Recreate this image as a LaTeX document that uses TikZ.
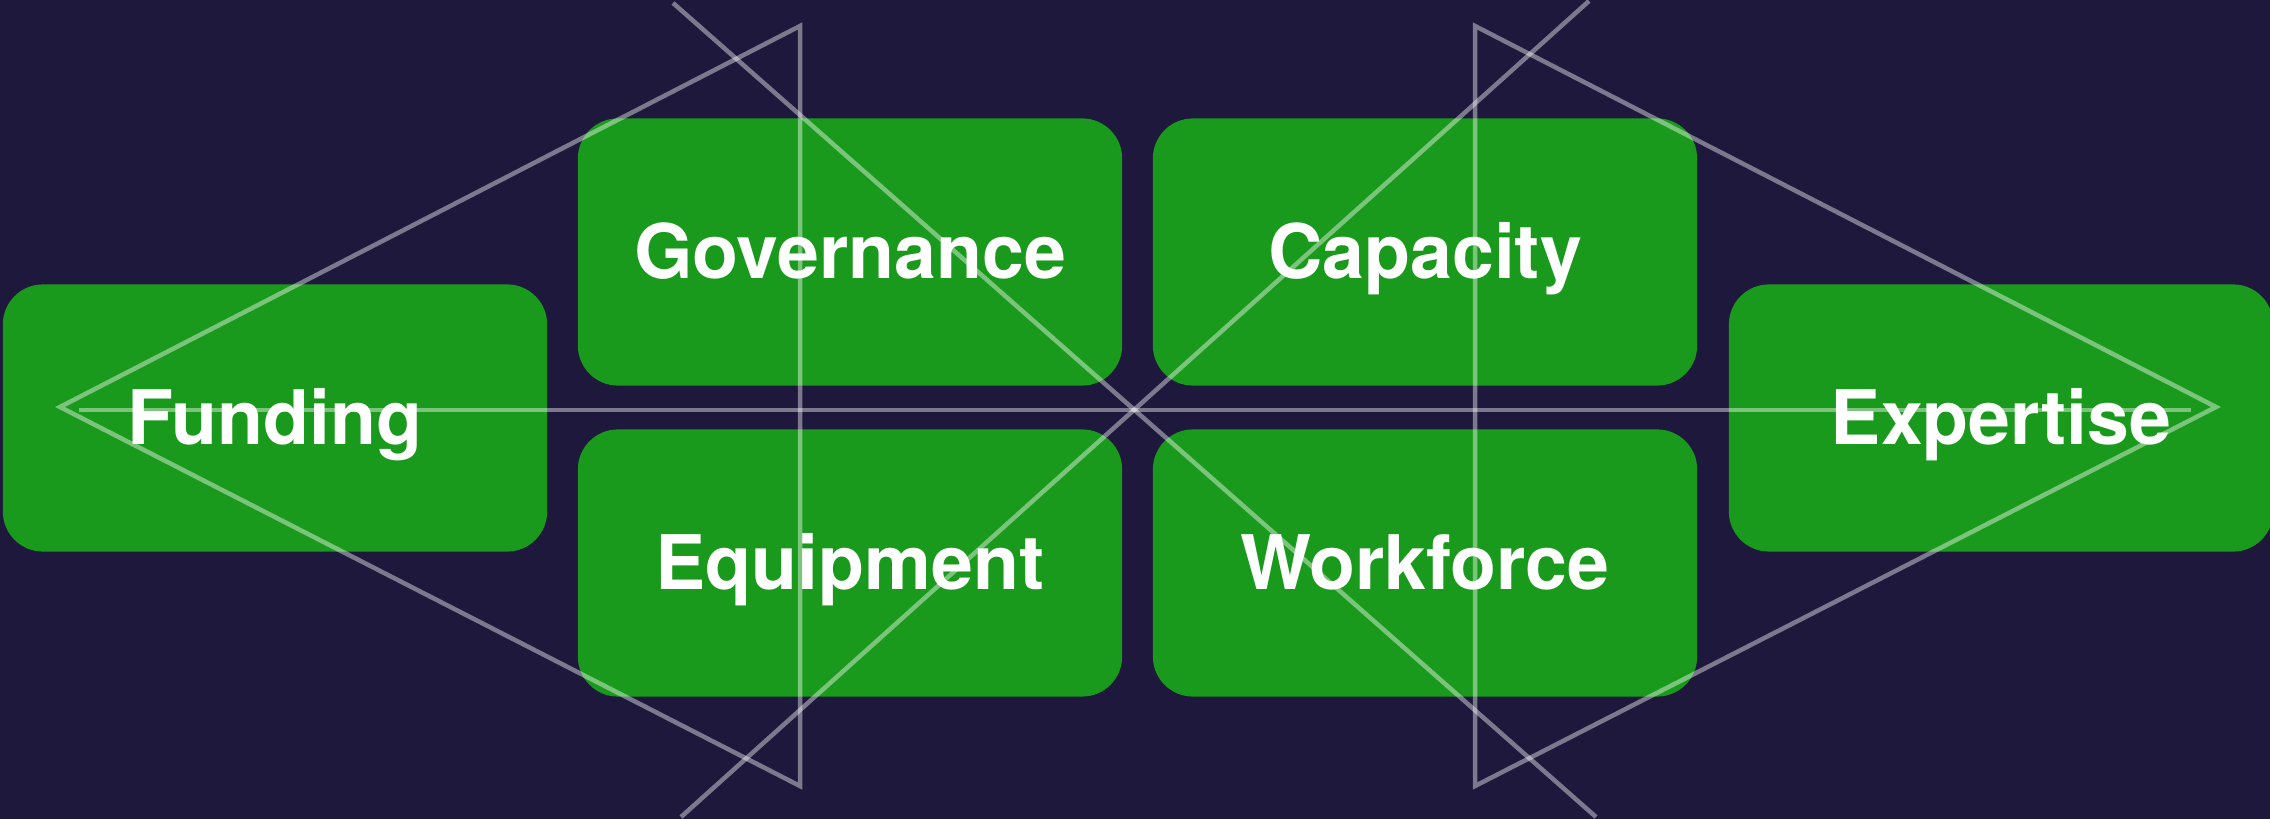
\documentclass[tikz,border=0pt]{standalone}
\usepackage{fontspec}
\setmainfont{TeX Gyre Heros}
\definecolor{bgnavy}{RGB}{30,24,60}
\definecolor{boxgreen}{RGB}{26,154,28}

\begin{document}
\begin{tikzpicture}[x=0.01cm, y=-0.01cm,
  block/.style={fill=boxgreen, rounded corners=0.4cm, minimum width=5.44cm,
    minimum height=2.67cm, inner sep=0pt, text=white,
    font=\fontsize{21.4}{25}\selectfont\bfseries, text height=15.3pt, text depth=0pt},
  guide/.style={draw=white, draw opacity=0.42, line width=0.045cm}]
\fill[bgnavy] (0,0) rectangle (2270,819);
\useasboundingbox (0,0) rectangle (2270,819);
\node[block] (fund) at (275,418) {Funding};
\node[block] (gov) at (850,252) {Governance};
\node[block] (equip) at (850,563) {Equipment};
\node[block] (cap) at (1425,252) {Capacity};
\node[block] (work) at (1425,563) {Workforce};
\node[block] (exp) at (2001,418) {Expertise};
\coordinate (lapex) at (60,407);
\coordinate (ltop) at (800,26);
\coordinate (lbot) at (800,786);
\coordinate (rapex) at (2216,407);
\coordinate (rtop) at (1475,26);
\coordinate (rbot) at (1475,786);
\coordinate (hl) at (79,410);
\coordinate (hr) at (2191,410);
\coordinate (da1) at (673,3);
\coordinate (da2) at (1596,817);
\coordinate (db1) at (681,817);
\coordinate (db2) at (1589,1);
\draw[guide] (lapex) -- (ltop) -- (lbot) -- cycle;
\draw[guide] (rapex) -- (rtop) -- (rbot) -- cycle;
\draw[guide] (hl) -- (hr);
\draw[guide] (da1) -- (da2);
\draw[guide] (db1) -- (db2);
\end{tikzpicture}
\end{document}
